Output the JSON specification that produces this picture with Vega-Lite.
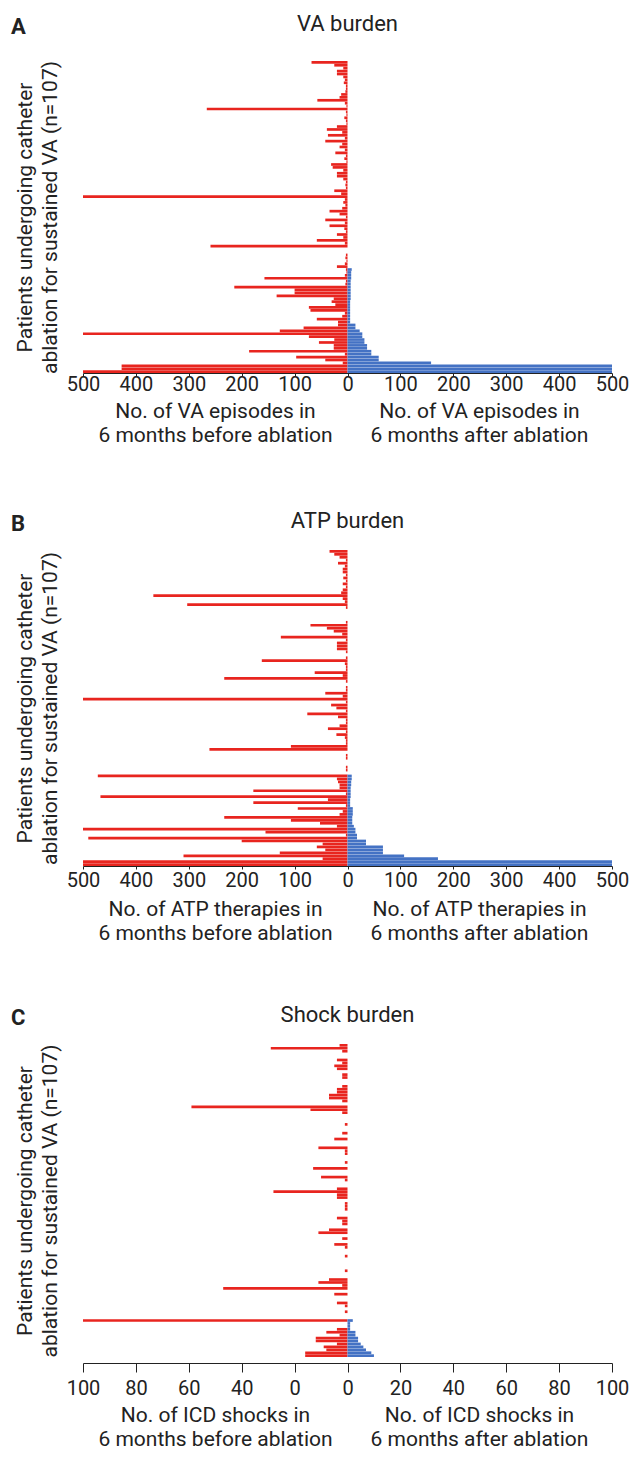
{
"$schema": "https://vega.github.io/schema/vega-lite/v6.json",
"background": "white",
"padding": {"top": 13, "left": 11, "right": 5, "bottom": 5},
"spacing": 60,
"config": {
  "font": "Roboto",
  "view": {"stroke": null},
  "axis": {"grid": false, "domainColor": "#222", "tickColor": "#222", "labelColor": "#222", "titleColor": "#222", "labelFont": "Roboto", "labelFontSize": 20, "titleFont": "Roboto", "titleFontSize": 21, "titleFontWeight": "normal"},
  "title": {"font": "Roboto", "fontSize": 22, "fontWeight": "normal", "color": "#222", "frame": "group", "anchor": "middle", "offset": 17}
},
"datasets": {
"A": [
{"row":0,"before":-68,"after":0},{"row":1,"before":-25,"after":0},{"row":2,"before":-8,"after":0},{"row":3,"before":-20,"after":0},{"row":4,"before":-20,"after":0},{"row":5,"before":-8,"after":0},{"row":6,"before":-5,"after":0},{"row":7,"before":-7,"after":0},{"row":8,"before":-3,"after":0},{"row":9,"before":-3,"after":0},
{"row":10,"before":-4,"after":0},{"row":11,"before":-12,"after":0},{"row":12,"before":-15,"after":0},{"row":13,"before":-57,"after":0},{"row":14,"before":-5,"after":0},{"row":15,"before":-2,"after":0},{"row":16,"before":-266,"after":0},{"row":17,"before":-3,"after":0},{"row":18,"before":-2,"after":0},{"row":19,"before":-6,"after":0},
{"row":20,"before":-3,"after":0},{"row":21,"before":-2,"after":0},{"row":22,"before":-20,"after":0},{"row":23,"before":-39,"after":0},{"row":24,"before":-10,"after":0},{"row":25,"before":-37,"after":0},{"row":26,"before":-5,"after":0},{"row":27,"before":-42,"after":0},{"row":28,"before":-10,"after":0},{"row":29,"before":-15,"after":0},
{"row":30,"before":-5,"after":0},{"row":31,"before":-23,"after":0},{"row":32,"before":-3,"after":0},{"row":33,"before":-6,"after":0},{"row":34,"before":-2,"after":0},{"row":35,"before":-31,"after":0},{"row":36,"before":-28,"after":0},{"row":37,"before":-8,"after":0},{"row":38,"before":-20,"after":0},{"row":39,"before":-20,"after":0},
{"row":40,"before":-8,"after":0},{"row":41,"before":-3,"after":0},{"row":42,"before":-4,"after":0},{"row":43,"before":-3,"after":0},{"row":44,"before":-25,"after":0},{"row":45,"before":-12,"after":0},{"row":46,"before":-500,"after":0},{"row":47,"before":-5,"after":0},{"row":48,"before":-8,"after":0},{"row":49,"before":-4,"after":0},
{"row":50,"before":-10,"after":0},{"row":51,"before":-34,"after":0},{"row":52,"before":-15,"after":0},{"row":53,"before":-3,"after":0},{"row":54,"before":-42,"after":0},{"row":55,"before":-5,"after":0},{"row":56,"before":-34,"after":0},{"row":57,"before":-6,"after":0},{"row":58,"before":-3,"after":0},{"row":59,"before":-20,"after":0},
{"row":60,"before":-8,"after":0},{"row":61,"before":-58,"after":0},{"row":62,"before":-5,"after":0},{"row":63,"before":-259,"after":0},{"row":64,"before":0,"after":0},{"row":65,"before":0,"after":0},{"row":66,"before":-3,"after":0},{"row":67,"before":-4,"after":0},{"row":68,"before":-2,"after":0},{"row":69,"before":-5,"after":0},
{"row":70,"before":-20,"after":0},{"row":71,"before":-3,"after":8},{"row":72,"before":-2,"after":7},{"row":73,"before":-5,"after":7},{"row":74,"before":-157,"after":7},{"row":75,"before":-3,"after":6},{"row":76,"before":-4,"after":6},{"row":77,"before":-214,"after":6},{"row":78,"before":-100,"after":6},{"row":79,"before":-100,"after":6},
{"row":80,"before":-134,"after":6},{"row":81,"before":-26,"after":6},{"row":82,"before":-30,"after":5},{"row":83,"before":-23,"after":5},{"row":84,"before":-73,"after":5},{"row":85,"before":-70,"after":5},{"row":86,"before":-5,"after":5},{"row":87,"before":-10,"after":5},{"row":88,"before":-58,"after":5},{"row":89,"before":-18,"after":5},
{"row":90,"before":-18,"after":15},{"row":91,"before":-83,"after":15},{"row":92,"before":-128,"after":23},{"row":93,"before":-500,"after":28},{"row":94,"before":-73,"after":28},{"row":95,"before":-25,"after":32},{"row":96,"before":-54,"after":32},{"row":97,"before":-26,"after":37},{"row":98,"before":-26,"after":37},{"row":99,"before":-186,"after":45},
{"row":100,"before":-5,"after":45},{"row":101,"before":-97,"after":59},{"row":102,"before":-42,"after":59},{"row":103,"before":-9,"after":158},{"row":104,"before":-427,"after":500},{"row":105,"before":-427,"after":500},{"row":106,"before":-500,"after":500}
],
"B": [
{"row":0,"before":-34,"after":0},{"row":1,"before":-25,"after":0},{"row":2,"before":-15,"after":0},{"row":3,"before":-3,"after":0},{"row":4,"before":-18,"after":0},{"row":5,"before":-5,"after":0},{"row":6,"before":-9,"after":0},{"row":7,"before":-9,"after":0},{"row":8,"before":-3,"after":0},{"row":9,"before":-8,"after":0},
{"row":10,"before":-3,"after":0},{"row":11,"before":-9,"after":0},{"row":12,"before":-3,"after":0},{"row":13,"before":-9,"after":0},{"row":14,"before":-12,"after":0},{"row":15,"before":-367,"after":0},{"row":16,"before":-9,"after":0},{"row":17,"before":-5,"after":0},{"row":18,"before":-303,"after":0},{"row":19,"before":-3,"after":0},
{"row":20,"before":0,"after":0},{"row":21,"before":0,"after":0},{"row":22,"before":0,"after":0},{"row":23,"before":0,"after":0},{"row":24,"before":-3,"after":0},{"row":25,"before":-70,"after":0},{"row":26,"before":-39,"after":0},{"row":27,"before":-26,"after":0},{"row":28,"before":-10,"after":0},{"row":29,"before":-126,"after":0},
{"row":30,"before":-3,"after":0},{"row":31,"before":-20,"after":0},{"row":32,"before":-20,"after":0},{"row":33,"before":-20,"after":0},{"row":34,"before":-3,"after":0},{"row":35,"before":0,"after":0},{"row":36,"before":-3,"after":0},{"row":37,"before":-162,"after":0},{"row":38,"before":-5,"after":0},{"row":39,"before":-3,"after":0},
{"row":40,"before":-3,"after":0},{"row":41,"before":-62,"after":0},{"row":42,"before":-9,"after":0},{"row":43,"before":-233,"after":0},{"row":44,"before":-3,"after":0},{"row":45,"before":0,"after":0},{"row":46,"before":-3,"after":0},{"row":47,"before":-3,"after":0},{"row":48,"before":-42,"after":0},{"row":49,"before":-9,"after":0},
{"row":50,"before":-500,"after":0},{"row":51,"before":-3,"after":0},{"row":52,"before":-31,"after":0},{"row":53,"before":-21,"after":0},{"row":54,"before":-3,"after":0},{"row":55,"before":-76,"after":0},{"row":56,"before":-18,"after":0},{"row":57,"before":-3,"after":0},{"row":58,"before":-3,"after":0},{"row":59,"before":-15,"after":0},
{"row":60,"before":-37,"after":0},{"row":61,"before":-3,"after":0},{"row":62,"before":-21,"after":0},{"row":63,"before":-5,"after":0},{"row":64,"before":-3,"after":0},{"row":65,"before":-3,"after":0},{"row":66,"before":-107,"after":0},{"row":67,"before":-261,"after":0},{"row":68,"before":0,"after":0},{"row":69,"before":-3,"after":0},
{"row":70,"before":-3,"after":0},{"row":71,"before":0,"after":0},{"row":72,"before":0,"after":0},{"row":73,"before":-3,"after":0},{"row":74,"before":-3,"after":0},{"row":75,"before":0,"after":0},{"row":76,"before":-472,"after":8},{"row":77,"before":-20,"after":8},{"row":78,"before":-18,"after":7},{"row":79,"before":-15,"after":7},
{"row":80,"before":-15,"after":6},{"row":81,"before":-178,"after":6},{"row":82,"before":-3,"after":6},{"row":83,"before":-467,"after":6},{"row":84,"before":-37,"after":5},{"row":85,"before":-178,"after":5},{"row":86,"before":-3,"after":5},{"row":87,"before":-94,"after":10},{"row":88,"before":-9,"after":10},{"row":89,"before":-15,"after":10},
{"row":90,"before":-233,"after":9},{"row":91,"before":-107,"after":9},{"row":92,"before":-52,"after":9},{"row":93,"before":-20,"after":12},{"row":94,"before":-500,"after":15},{"row":95,"before":-155,"after":15},{"row":96,"before":-3,"after":18},{"row":97,"before":-490,"after":18},{"row":98,"before":-200,"after":35},{"row":99,"before":-47,"after":35},
{"row":100,"before":-58,"after":67},{"row":101,"before":-42,"after":67},{"row":102,"before":-128,"after":67},{"row":103,"before":-310,"after":107},{"row":104,"before":-47,"after":171},{"row":105,"before":-500,"after":500},{"row":106,"before":-500,"after":500}
],
"C": [
{"row":0,"before":-3,"after":0},{"row":1,"before":-29,"after":0},{"row":2,"before":-2,"after":0},{"row":3,"before":0,"after":0},{"row":4,"before":0,"after":0},{"row":5,"before":-4,"after":0},{"row":6,"before":-2,"after":0},{"row":7,"before":-5,"after":0},{"row":8,"before":-4,"after":0},{"row":9,"before":0,"after":0},
{"row":10,"before":-2,"after":0},{"row":11,"before":-2,"after":0},{"row":12,"before":0,"after":0},{"row":13,"before":0,"after":0},{"row":14,"before":-2,"after":0},{"row":15,"before":-4,"after":0},{"row":16,"before":-4,"after":0},{"row":17,"before":-7,"after":0},{"row":18,"before":-7,"after":0},{"row":19,"before":-2,"after":0},
{"row":20,"before":0,"after":0},{"row":21,"before":-59,"after":0},{"row":22,"before":-14,"after":0},{"row":23,"before":-2,"after":0},{"row":24,"before":0,"after":0},{"row":25,"before":0,"after":0},{"row":26,"before":0,"after":0},{"row":27,"before":-1,"after":0},{"row":28,"before":0,"after":0},{"row":29,"before":0,"after":0},
{"row":30,"before":-2,"after":0},{"row":31,"before":0,"after":0},{"row":32,"before":-5,"after":0},{"row":33,"before":0,"after":0},{"row":34,"before":0,"after":0},{"row":35,"before":-11,"after":0},{"row":36,"before":-1,"after":0},{"row":37,"before":-1,"after":0},{"row":38,"before":0,"after":0},{"row":39,"before":0,"after":0},
{"row":40,"before":-1,"after":0},{"row":41,"before":0,"after":0},{"row":42,"before":-13,"after":0},{"row":43,"before":0,"after":0},{"row":44,"before":0,"after":0},{"row":45,"before":-10,"after":0},{"row":46,"before":-1,"after":0},{"row":47,"before":0,"after":0},{"row":48,"before":0,"after":0},{"row":49,"before":-4,"after":0},
{"row":50,"before":-28,"after":0},{"row":51,"before":-4,"after":0},{"row":52,"before":-4,"after":0},{"row":53,"before":0,"after":0},{"row":54,"before":-1,"after":0},{"row":55,"before":-1,"after":0},{"row":56,"before":-1,"after":0},{"row":57,"before":0,"after":0},{"row":58,"before":0,"after":0},{"row":59,"before":-4,"after":0},
{"row":60,"before":-2,"after":0},{"row":61,"before":-2,"after":0},{"row":62,"before":0,"after":0},{"row":63,"before":-7,"after":0},{"row":64,"before":-11,"after":0},{"row":65,"before":0,"after":0},{"row":66,"before":-2,"after":0},{"row":67,"before":0,"after":0},{"row":68,"before":-5,"after":0},{"row":69,"before":-1,"after":0},
{"row":70,"before":0,"after":0},{"row":71,"before":0,"after":0},{"row":72,"before":-1,"after":0},{"row":73,"before":0,"after":0},{"row":74,"before":0,"after":0},{"row":75,"before":0,"after":0},{"row":76,"before":0,"after":0},{"row":77,"before":-1,"after":0},{"row":78,"before":0,"after":0},{"row":79,"before":0,"after":0},
{"row":80,"before":-7,"after":0},{"row":81,"before":-11,"after":0},{"row":82,"before":-2,"after":0},{"row":83,"before":-47,"after":0},{"row":84,"before":0,"after":0},{"row":85,"before":-5,"after":0},{"row":86,"before":0,"after":0},{"row":87,"before":0,"after":0},{"row":88,"before":-4,"after":0},{"row":89,"before":-1,"after":0},
{"row":90,"before":0,"after":0},{"row":91,"before":-1,"after":0},{"row":92,"before":0,"after":0},{"row":93,"before":0,"after":0},{"row":94,"before":-100,"after":2},{"row":95,"before":0,"after":1},{"row":96,"before":0,"after":1},{"row":97,"before":-4,"after":1},{"row":98,"before":-8,"after":3},{"row":99,"before":-3,"after":3},
{"row":100,"before":-12,"after":4},{"row":101,"before":-12,"after":4},{"row":102,"before":-4,"after":5},{"row":103,"before":-9,"after":6},{"row":104,"before":-8,"after":7},{"row":105,"before":-16,"after":9},{"row":106,"before":-16,"after":10}
]
},
"vconcat": [
{
 "spacing": 65,
 "vconcat": [
 {
  "title": {"text": "A", "anchor": "start", "frame": "bounds", "fontWeight": "bold", "offset": -26, "dx": -3},
  "vconcat": [{
   "width": 529, "height": 312,
   "title": {"text": "VA burden", "offset": 24},
   "data": {"name": "A"},
   "encoding": {"y": {"field": "row", "type": "ordinal", "scale": {"paddingInner": 0.08, "paddingOuter": 0},
      "axis": {"title": ["Patients undergoing catheter", "ablation for sustained VA (n=107)"], "labels": false, "ticks": false, "domain": false, "titlePadding": 23, "titleLineHeight": 25}}},
   "layer": [
    {"mark": {"type": "bar", "color": "#E8251F"},
     "encoding": {"x": {"field": "before", "type": "quantitative", "stack": null, "scale": {"domain": [-500, 500], "nice": false},
       "axis": {"orient": "bottom", "values": [-500,-400,-300,-200,-100,0,100,200,300,400,500], "labelExpr": "abs(datum.value)", "tickSize": 3, "labelPadding": -2, "labelFlush": false,
         "title": ["No. of VA episodes in", "6 months before ablation"], "titleX": 132, "titleY": 44, "titleAlign": "center", "titleBaseline": "alphabetic", "titleLineHeight": 24}}}},
    {"mark": {"type": "bar", "color": "#4472C4"},
     "encoding": {"x": {"field": "after", "type": "quantitative", "stack": null,
       "axis": {"orient": "bottom", "labels": false, "ticks": false, "domain": false,
         "title": ["No. of VA episodes in", "6 months after ablation"], "titleX": 396, "titleY": 44, "titleAlign": "center", "titleBaseline": "alphabetic", "titleLineHeight": 24}}}}
   ],
   "resolve": {"axis": {"x": "independent"}}
  }]
 },
 {
  "title": {"text": "B", "anchor": "start", "frame": "bounds", "fontWeight": "bold", "offset": -26, "dx": -3},
  "vconcat": [{
   "width": 529, "height": 316,
   "title": {"text": "ATP burden"},
   "data": {"name": "B"},
   "encoding": {"y": {"field": "row", "type": "ordinal", "scale": {"paddingInner": 0.08, "paddingOuter": 0},
      "axis": {"title": ["Patients undergoing catheter", "ablation for sustained VA (n=107)"], "labels": false, "ticks": false, "domain": false, "titlePadding": 23, "titleLineHeight": 25}}},
   "layer": [
    {"mark": {"type": "bar", "color": "#E8251F"},
     "encoding": {"x": {"field": "before", "type": "quantitative", "stack": null, "scale": {"domain": [-500, 500], "nice": false},
       "axis": {"orient": "bottom", "values": [-500,-400,-300,-200,-100,0,100,200,300,400,500], "labelExpr": "abs(datum.value)", "tickSize": 3, "labelPadding": 1, "labelFlush": false,
         "title": ["No. of ATP therapies in", "6 months before ablation"], "titleX": 132, "titleY": 49, "titleAlign": "center", "titleBaseline": "alphabetic", "titleLineHeight": 24}}}},
    {"mark": {"type": "bar", "color": "#4472C4"},
     "encoding": {"x": {"field": "after", "type": "quantitative", "stack": null,
       "axis": {"orient": "bottom", "labels": false, "ticks": false, "domain": false,
         "title": ["No. of ATP therapies in", "6 months after ablation"], "titleX": 396, "titleY": 49, "titleAlign": "center", "titleBaseline": "alphabetic", "titleLineHeight": 24}}}}
   ],
   "resolve": {"axis": {"x": "independent"}}
  }]
 }
 ]
},
{
 "title": {"text": "C", "anchor": "start", "frame": "bounds", "fontWeight": "bold", "offset": -26, "dx": -3},
 "vconcat": [{
  "width": 529, "height": 313,
  "title": {"text": "Shock burden"},
  "data": {"name": "C"},
  "encoding": {"y": {"field": "row", "type": "ordinal", "scale": {"paddingInner": 0.08, "paddingOuter": 0},
     "axis": {"title": ["Patients undergoing catheter", "ablation for sustained VA (n=107)"], "labels": false, "ticks": false, "domain": false, "titlePadding": 23, "titleLineHeight": 25}}},
  "layer": [
   {"mark": {"type": "bar", "color": "#E8251F"},
    "encoding": {"x": {"field": "before", "type": "quantitative", "stack": null, "scale": {"domain": [-100, 100], "nice": false},
      "axis": {"orient": "bottom", "offset": 6, "values": [-100,-80,-60,-40,-20,0,20,40,60,80,100], "labelExpr": "datum.value == -20 ? '0' : format(abs(datum.value), 'd')", "tickSize": 9, "labelPadding": 6, "labelFlush": false,
        "title": ["No. of ICD shocks in", "6 months before ablation"], "titleX": 132, "titleY": 58, "titleAlign": "center", "titleBaseline": "alphabetic", "titleLineHeight": 24}}}},
   {"mark": {"type": "bar", "color": "#4472C4"},
    "encoding": {"x": {"field": "after", "type": "quantitative", "stack": null,
      "axis": {"orient": "bottom", "offset": 6, "labels": false, "ticks": false, "domain": false,
        "title": ["No. of ICD shocks in", "6 months after ablation"], "titleX": 396, "titleY": 58, "titleAlign": "center", "titleBaseline": "alphabetic", "titleLineHeight": 24}}}}
  ],
  "resolve": {"axis": {"x": "independent"}}
 }]
}
]
}
